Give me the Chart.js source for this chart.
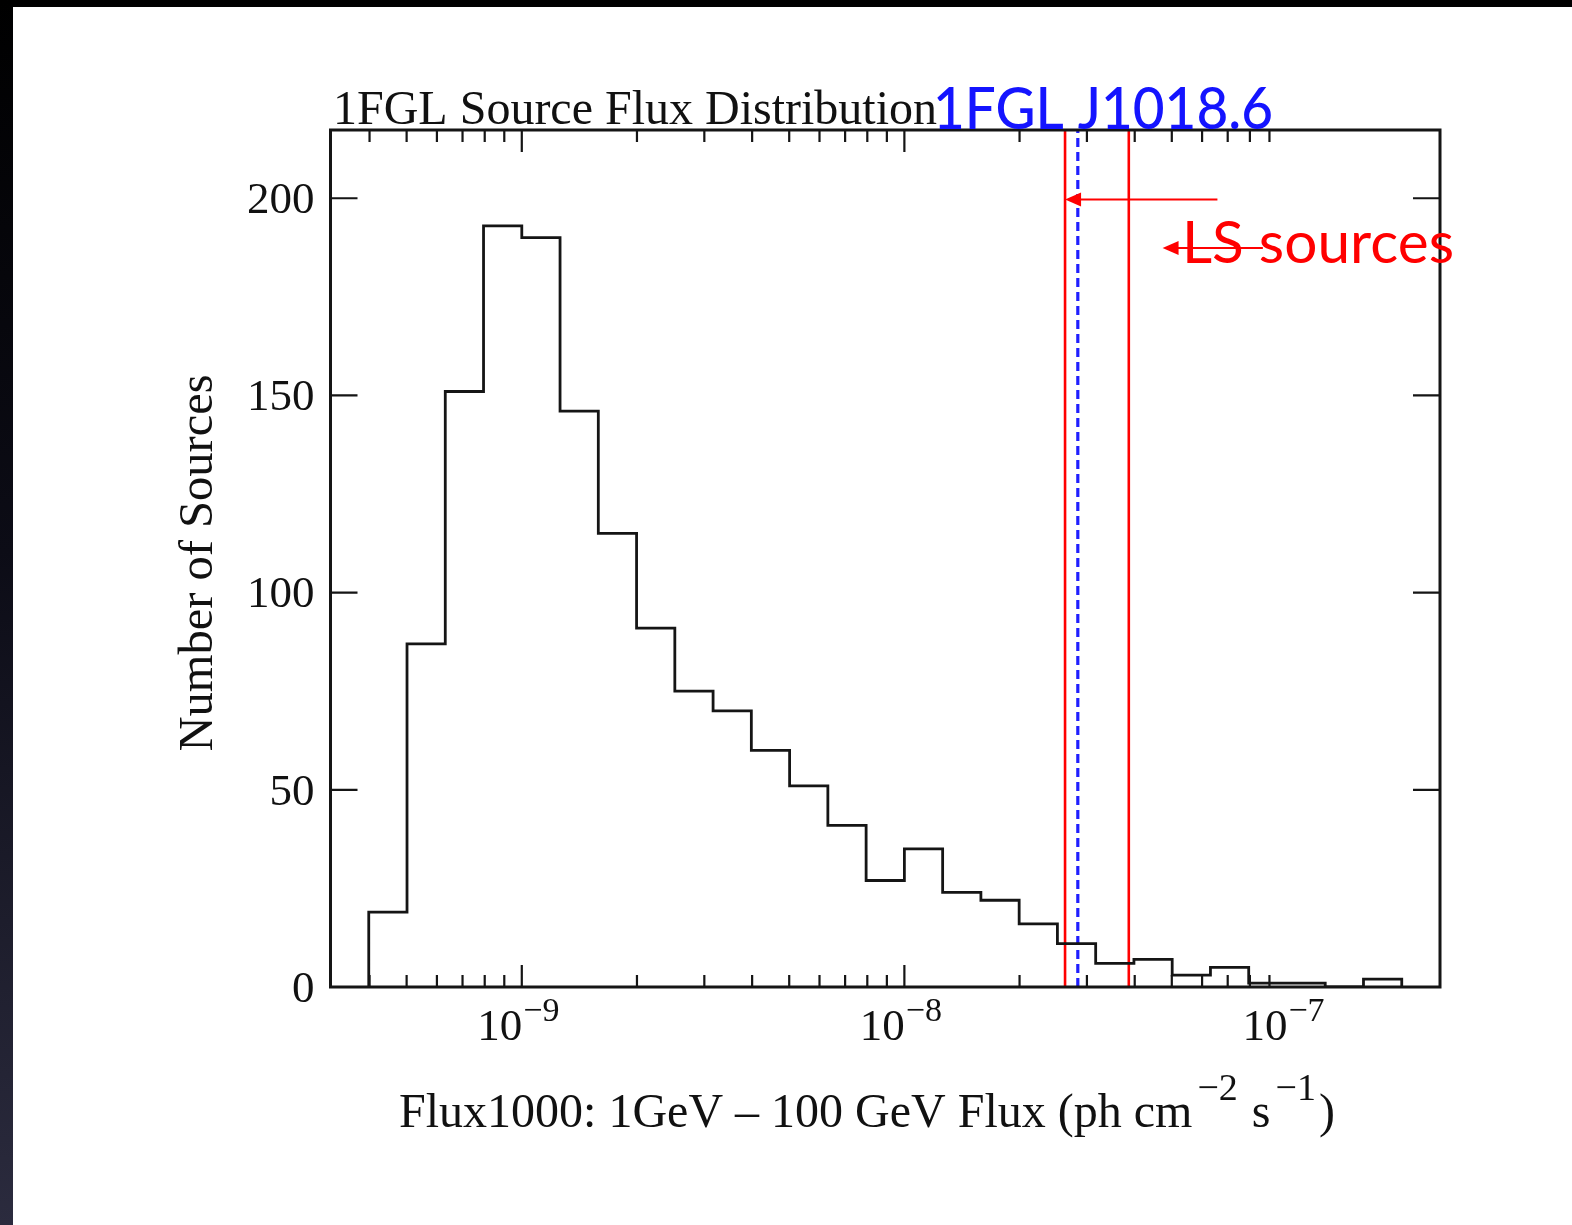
<!DOCTYPE html>
<html>
<head>
<meta charset="utf-8">
<script src="https://cdn.jsdelivr.net/npm/chart.js@4.4.1/dist/chart.umd.min.js"></script>
<style>
  body { margin: 0; background: #000; }
  #page { position: absolute; left: 0; top: 0; width: 1572px; height: 1225px;
          background: linear-gradient(180deg, #000 0%, #0c0c16 45%, #2b2b3e 100%); overflow: hidden; }
  #sheet { position: absolute; left: 13px; top: 7px; right: 0; bottom: 0; background: #fff; }
  #fluxChart { position: absolute; left: 0; top: 0; }
</style>
</head>
<body>
<div id="page">
  <div id="sheet"></div>
  <canvas id="fluxChart" width="1572" height="1225"></canvas>
</div>
<script>
// histogram bin edges, as log10(flux)
const binEdgesExp = [-9.4, -9.3, -9.2, -9.1, -9.0, -8.9, -8.8, -8.7, -8.6, -8.5, -8.4, -8.3, -8.2, -8.1,
                     -8.0, -7.9, -7.8, -7.7, -7.6, -7.5, -7.4, -7.3, -7.2, -7.1, -7.0, -6.9, -6.8, -6.7];
// number of sources in each bin
const sourceCounts = [19, 87, 151, 193, 190, 146, 115, 91, 75, 70, 60, 51, 41, 27,
                      35, 24, 22, 16, 11, 6, 7, 3, 5, 1, 1, 0, 2];
const yTicks = [0, 50, 100, 150, 200];
const xDecadeExps = [-9, -8, -7];
const xMinorSteps = [2, 3, 4, 5, 6, 7, 8, 9];
const xRangeExp = [-9.5, -6.6];
const yMax = 217.3;

// marked fluxes
const lsBoundsFlux = [2.63e-8, 3.86e-8];
const j1018Flux = 2.84e-8;
// arrows: [fromFlux, toFlux, count level]
const arrowTop = [6.58e-8, 2.63e-8, 199.7];
const arrowLS = [8.65e-8, 4.73e-8, 187.4];

const SERIF = '"Liberation Serif", "Times New Roman", serif';
const SANS = 'Lato, "Open Sans", sans-serif';

function drawArrow(ctx, x0, x1, y, color) {
  ctx.strokeStyle = color;
  ctx.fillStyle = color;
  ctx.lineWidth = 2;
  ctx.beginPath();
  ctx.moveTo(x0, y);
  ctx.lineTo(x1 + 10, y);
  ctx.stroke();
  ctx.beginPath();
  ctx.moveTo(x1, y);
  ctx.lineTo(x1 + 16, y - 7);
  ctx.lineTo(x1 + 16, y + 7);
  ctx.closePath();
  ctx.fill();
}

// draw text stretched to a given width
function fitText(ctx, text, x, y, width) {
  const w = ctx.measureText(text).width;
  ctx.save();
  ctx.translate(x, y);
  ctx.scale(width / w, 1);
  ctx.fillText(text, 0, 0);
  ctx.restore();
}

const overlay = {
  id: 'overlay',
  afterDraw(chart) {
    const ctx = chart.ctx;
    const { left, right, top, bottom } = chart.chartArea;
    const xs = chart.scales.x, ys = chart.scales.y;
    ctx.save();

    // frame
    ctx.strokeStyle = '#151515';
    ctx.lineWidth = 3;
    ctx.strokeRect(left, top, right - left, bottom - top);

    // x ticks, inside on bottom and top
    ctx.lineWidth = 2.2;
    ctx.beginPath();
    for (let e = xRangeExp[0] - 1; e <= xRangeExp[1]; e++) {
      const dec = Math.floor(e);
      [1].concat(xMinorSteps).forEach(m => {
        const v = m * Math.pow(10, dec);
        const px = xs.getPixelForValue(v);
        if (px <= left + 1 || px >= right - 1) return;
        const len = m === 1 ? 22 : 12;
        ctx.moveTo(px, bottom); ctx.lineTo(px, bottom - len);
        ctx.moveTo(px, top); ctx.lineTo(px, top + len);
      });
    }
    // y ticks, inside on left and right
    yTicks.forEach(v => {
      const py = ys.getPixelForValue(v);
      ctx.moveTo(left, py); ctx.lineTo(left + 27, py);
      ctx.moveTo(right, py); ctx.lineTo(right - 27, py);
    });
    ctx.stroke();

    // y tick labels
    ctx.fillStyle = '#111';
    ctx.font = '45px ' + SERIF;
    ctx.textAlign = 'right';
    ctx.textBaseline = 'middle';
    yTicks.forEach(v => {
      ctx.fillText(String(v), left - 16, ys.getPixelForValue(v) + 3);
    });

    // x tick labels 10^n
    ctx.textBaseline = 'alphabetic';
    ctx.textAlign = 'left';
    xDecadeExps.forEach(e => {
      const px = xs.getPixelForValue(Math.pow(10, e));
      const expText = '\u2212' + Math.abs(e);
      ctx.font = '45px ' + SERIF;
      const wBase = ctx.measureText('10').width;
      ctx.font = '34px ' + SERIF;
      const wExp = ctx.measureText(expText).width;
      const x0 = px - 4 - (wBase + wExp) / 2;
      ctx.font = '45px ' + SERIF;
      ctx.fillText('10', x0, 1040);
      ctx.font = '34px ' + SERIF;
      ctx.fillText(expText, x0 + wBase + 1, 1021);
    });

    // axis titles
    ctx.font = '48.5px ' + SERIF;
    ctx.save();
    ctx.translate(212, 563);
    ctx.rotate(-Math.PI / 2);
    ctx.textAlign = 'center';
    ctx.fillText('Number of Sources', 0, 0);
    ctx.restore();

    // [text, font size, baseline shift, gap before]
    const parts = [
      ['Flux1000: 1GeV \u2013 100 GeV Flux (ph cm', 48, 0, 0],
      ['\u22122', 38, -27, 5],
      [' s', 48, 0, 2],
      ['\u22121', 38, -27, 5],
      [')', 48, 0, 3]
    ];
    let total = 0;
    parts.forEach(p => { ctx.font = p[1] + 'px ' + SERIF; p.push(ctx.measureText(p[0]).width); total += p[3] + p[4]; });
    let cx = 867 - total / 2;
    parts.forEach(p => {
      cx += p[3];
      ctx.font = p[1] + 'px ' + SERIF;
      ctx.fillText(p[0], cx, 1127 + p[2]);
      cx += p[4];
    });

    // chart title
    ctx.font = '48px ' + SERIF;
    ctx.fillText('1FGL Source Flux Distribution', 333, 124);

    // annotations
    const yA = ys.getPixelForValue(arrowTop[2]);
    drawArrow(ctx, xs.getPixelForValue(arrowTop[0]), xs.getPixelForValue(arrowTop[1]), yA, '#ff0000');

    ctx.fillStyle = '#ff0000';
    ctx.font = '58px ' + SANS;
    fitText(ctx, 'LS sources', 1182, 263, 272);
    const yL = ys.getPixelForValue(arrowLS[2]);
    drawArrow(ctx, xs.getPixelForValue(arrowLS[0]), xs.getPixelForValue(arrowLS[1]), yL, '#ff0000');

    ctx.fillStyle = '#1414ff';
    ctx.font = '500 58px ' + SANS;
    fitText(ctx, '1FGL J1018.6', 933, 129, 340);

    ctx.restore();
  }
};

function buildChart() {
  const histPoints = [{ x: Math.pow(10, binEdgesExp[0]), y: 0 }];
  sourceCounts.forEach((c, i) => histPoints.push({ x: Math.pow(10, binEdgesExp[i]), y: c }));
  histPoints.push({ x: Math.pow(10, binEdgesExp[binEdgesExp.length - 1]), y: 0 });

  const vline = (f, color, dash) => ({
    data: [{ x: f, y: 0 }, { x: f, y: yMax }],
    borderColor: color,
    borderWidth: dash ? 3.2 : 2.6,
    borderDash: dash || [],
    pointRadius: 0,
    fill: false
  });

  const ctx = document.getElementById('fluxChart').getContext('2d');
  new Chart(ctx, {
    type: 'line',
    data: {
      datasets: [
        { data: histPoints, borderColor: '#151515', borderWidth: 2.8, stepped: true,
          pointRadius: 0, fill: false },
        vline(lsBoundsFlux[0], '#ff0000'),
        vline(lsBoundsFlux[1], '#ff0000'),
        vline(j1018Flux, '#1f1fff', [9, 5])
      ]
    },
    options: {
      responsive: false,
      animation: false,
      layout: { padding: { left: 330.5, top: 130, right: 132, bottom: 238 } },
      scales: {
        x: { type: 'logarithmic', display: false, min: Math.pow(10, xRangeExp[0]), max: Math.pow(10, xRangeExp[1]) },
        y: { type: 'linear', display: false, min: 0, max: yMax }
      },
      plugins: { legend: { display: false }, tooltip: { enabled: false } }
    },
    plugins: [overlay]
  });
}

Promise.all([
  document.fonts.load('44px "Liberation Serif"'),
  document.fonts.load('57px Lato')
]).then(buildChart, buildChart);
</script>
</body>
</html>
